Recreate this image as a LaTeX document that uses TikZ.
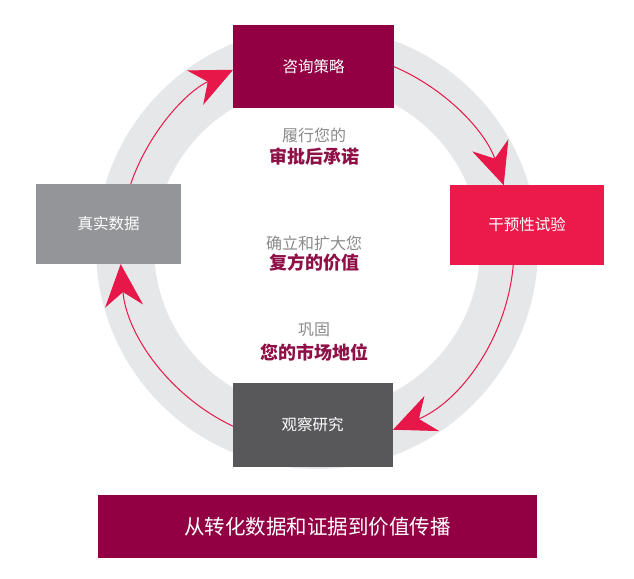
\documentclass[tikz,border=0pt]{standalone}
\usepackage{fontspec}
\newfontfamily\cjk{Noto Sans CJK SC}
\usetikzlibrary{arrows.meta,calc}
\definecolor{ringgray}{HTML}{E6E7E8}
\definecolor{arrowred}{HTML}{E8174A}
\definecolor{wine}{HTML}{920043}
\definecolor{redbox}{HTML}{EC1A4B}
\definecolor{lgray}{HTML}{939598}
\definecolor{dgray}{HTML}{58585A}
\definecolor{midgray}{HTML}{8A8A8A}
\definecolor{hlwine}{HTML}{8E1046}
\begin{document}
\begin{tikzpicture}[x=1pt,y=1pt,
  box/.style={rectangle, inner sep=0pt, text=white, font=\cjk\fontsize{15.5}{18}\selectfont},
  lbl/.style={inner sep=0pt, text=midgray, font=\cjk\fontsize{16}{18}\selectfont},
  hl/.style={inner sep=0pt, text=hlwine, font=\cjk\bfseries\fontsize{18}{20}\selectfont},
  cyc/.style={draw=arrowred, line width=1pt, -{Stealth[length=42pt,width=38pt,inset=14pt,fill=arrowred]}}
]
\useasboundingbox (0,0) rectangle (634,578);
\fill[white] (0,0) rectangle (634,578);
\coordinate (C) at (317,330);
% ring
\draw[ringgray, line width=58pt] (C) circle[radius=192];
% cycle arcs
\coordinate (s1) at ($(C)+(161:197)$);
\coordinate (s2) at ($(C)+(67:197)$);
\coordinate (s3) at ($(C)+(-5:197)$);
\coordinate (s4) at ($(C)+(-115.2:197)$);
\draw[cyc] (s1) arc[start angle=161, end angle=115.2, radius=197];
\draw[cyc] (s2) arc[start angle=67, end angle=18.6, radius=197];
\draw[cyc] (s3) arc[start angle=-5, end angle=-67.3, radius=197];
\draw[cyc] (s4) arc[start angle=-115.2, end angle=-175.3, radius=197];
% boxes
\node[box, fill=wine, minimum width=161, minimum height=83] (advice) at (313.5,511.5) {咨询策略};
\node[box, fill=redbox, minimum width=154, minimum height=80] (trial) at (527,353) {干预性试验};
\node[box, fill=dgray, minimum width=160, minimum height=84] (obs) at (312.5,153) {观察研究};
\node[box, fill=lgray, minimum width=145, minimum height=80] (rwd) at (108.5,354) {真实数据};
\node[box, fill=wine, minimum width=439, minimum height=63, font=\cjk\fontsize{20.5}{24}\selectfont] (banner) at (317.5,51.5) {从转化数据和证据到价值传播};
% middle texts
\node[lbl] (t1) at (314,443) {履行您的};
\node[hl] (h1) at (314,421) {审批后承诺};
\node[lbl] (t2) at (314,335) {确立和扩大您};
\node[hl] (h2) at (314,315) {复方的价值};
\node[lbl] (t3) at (314,248) {巩固};
\node[hl] (h3) at (314,226) {您的市场地位};
\end{tikzpicture}
\end{document}
